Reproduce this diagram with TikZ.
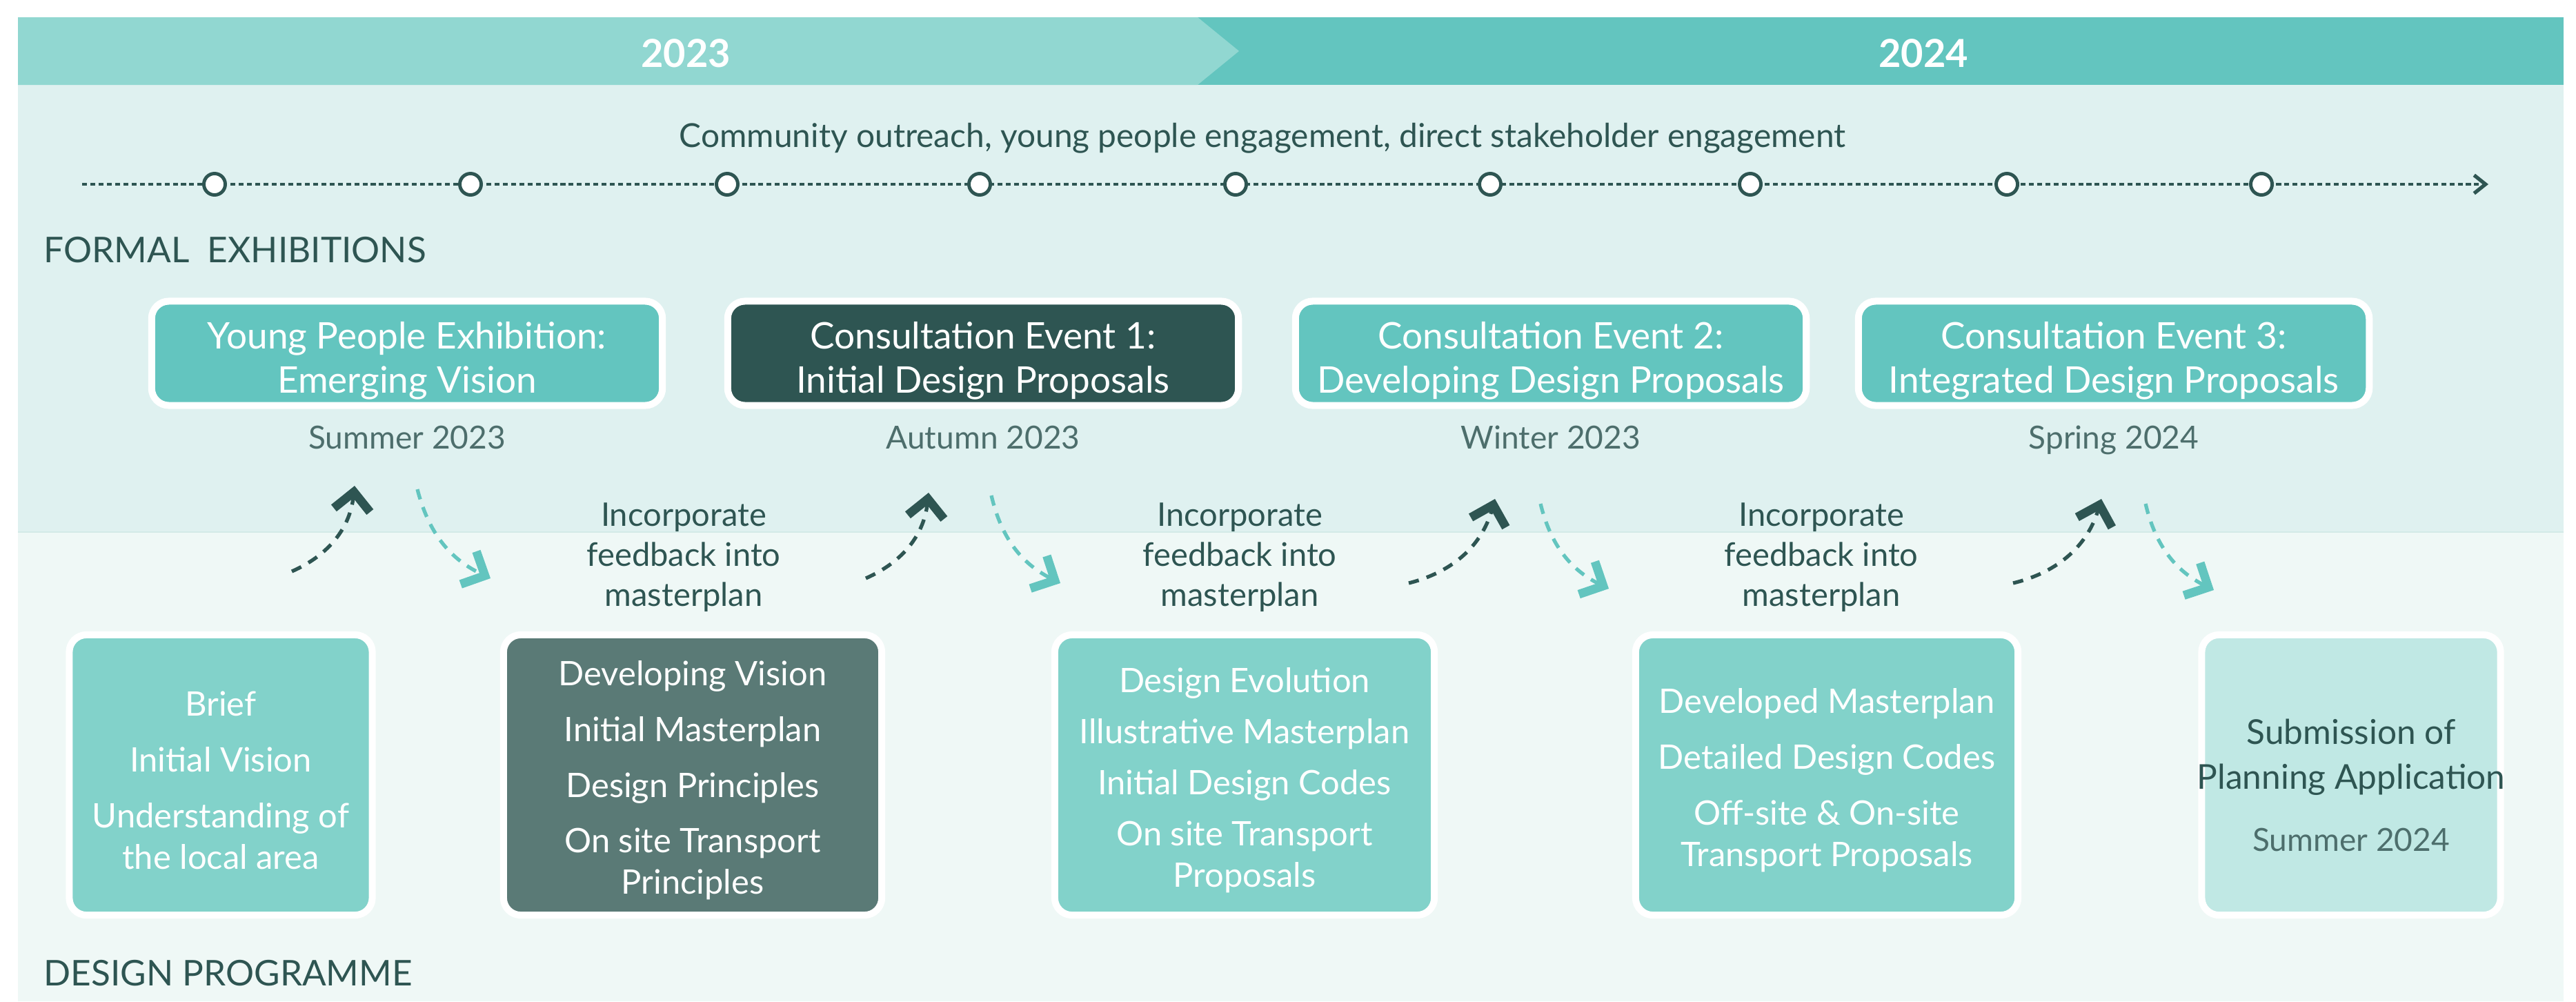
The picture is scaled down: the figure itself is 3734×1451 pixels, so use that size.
\documentclass[tikz,border=0pt]{standalone}
\usepackage{fontspec}
\setmainfont{Lato}
\usetikzlibrary{arrows.meta}

\definecolor{bandlight}{HTML}{91D7D1}
\definecolor{bandteal}{HTML}{63C5BF}
\definecolor{panelup}{HTML}{DFF1F0}
\definecolor{paneldown}{HTML}{EFF8F6}
\definecolor{panelline}{HTML}{D3EAE7}
\definecolor{deepgreen}{HTML}{2E5552}
\definecolor{stageteal}{HTML}{82D2CA}
\definecolor{stagegrey}{HTML}{5A7A76}
\definecolor{stagepale}{HTML}{C0E8E4}

\newcommand{\yearfont}{\fontsize{15.9pt}{18pt}\selectfont\bfseries}
\newcommand{\headfont}{\fontsize{14.6pt}{17pt}\selectfont}
% taller first line pushes the text block a little down in its box
\newcommand{\evpad}{\rule{0pt}{17.5pt}}
\newcommand{\stpad}{\rule{0pt}{14.6pt}}

\tikzset{
  eventbox/.style={rectangle, rounded corners=0.25cm, draw=white, line width=2.85pt,
    fill=bandteal, text=white, align=center, inner sep=0pt,
    minimum width=7.4cm, minimum height=1.51cm, font=\fontsize{15.1pt}{18.2pt}\selectfont},
  stagebox/.style={rectangle, rounded corners=0.25cm, draw=white, line width=2.85pt,
    fill=stageteal, text=white, align=center, inner sep=0pt,
    minimum height=4.06cm, font=\fontsize{13.9pt}{17pt}\selectfont},
  seasonlabel/.style={anchor=base, text=deepgreen!85!white, font=\fontsize{13.1pt}{15pt}\selectfont},
  feedbacknote/.style={text=deepgreen, align=center, font=\fontsize{13.4pt}{16.5pt}\selectfont},
  heading/.style={anchor=base west, inner sep=0pt, text=deepgreen, font=\headfont},
  milestone/.style={circle, draw=deepgreen, fill=white, line width=1.4pt,
    minimum size=0.31cm, inner sep=0pt},
  timeline/.style={deepgreen, line width=1.1pt, dash pattern=on 2pt off 1.4pt,
    -{Straight Barb[length=4.7pt, width=7.5pt, line width=1.5pt]}},
  toevent/.style={deepgreen, line width=1.5pt, dash pattern=on 4.3pt off 3.4pt,
    -{Straight Barb[length=7.5pt, width=15pt, line width=3.6pt]}, bend right=30},
  tostage/.style={bandteal, line width=1.5pt, dash pattern=on 4.3pt off 3.4pt,
    -{Straight Barb[length=7.5pt, width=15pt, line width=3.6pt]}, bend right=25}
}

\begin{document}
\begin{tikzpicture}[x=0.01cm, y=-0.01cm]
\useasboundingbox (0,0) rectangle (3734,1451);
\fill[white] (0,0) rectangle (3734,1451);

% panels and year band
\fill[panelup] (26,123) rectangle (3716,771);
\fill[paneldown] (26,771) rectangle (3716,1451);
\draw[panelline, line width=0.6pt] (26,771) -- (3716,771);
\fill[bandteal] (26,25) rectangle (3716,123);
\fill[bandlight] (26,25) -- (1736,25) -- (1796,74) -- (1736,123) -- (26,123) -- cycle;
\node[anchor=base, text=white, font=\yearfont] (y2023) at (994,97) {2023};
\node[anchor=base, text=white, font=\yearfont] (y2024) at (2788,97) {2024};

\node[anchor=base, text=deepgreen, font=\fontsize{13.6pt}{16pt}\selectfont] (outreach) at (1830,213)
  {Community outreach, young people engagement, direct stakeholder engagement};

% engagement timeline
\coordinate (tlstart) at (119,267);
\coordinate (tlend) at (3607,267);
\draw[timeline] (tlstart) -- (tlend);
\foreach \x [count=\i] in {311,682,1054,1420,1791,2160,2537,2909,3278}
  \node[milestone] (m\i) at (\x,267) {};

\node[heading] (formal) at (63,380) {FORMAL~~EXHIBITIONS};
\node[heading] (programme) at (63,1428) {DESIGN PROGRAMME};

% exhibitions
\node[eventbox] (e1) at (590,512) {\evpad Young People Exhibition:\\Emerging Vision};
\node[eventbox, fill=deepgreen] (e2) at (1425,512) {\evpad Consultation Event 1:\\Initial Design Proposals};
\node[eventbox] (e3) at (2248,512) {\evpad Consultation Event 2:\\Developing Design Proposals};
\node[eventbox] (e4) at (3064,512) {\evpad Consultation Event 3:\\Integrated Design Proposals};

\node[seasonlabel] (w1) at (590,650) {Summer 2023};
\node[seasonlabel] (w2) at (1425,650) {Autumn 2023};
\node[seasonlabel] (w3) at (2248,650) {Winter 2023};
\node[seasonlabel] (w4) at (3064,650) {Spring 2024};

\node[feedbacknote] (f1) at (991,808) {Incorporate\\feedback into\\masterplan};
\node[feedbacknote] (f2) at (1797,808) {Incorporate\\feedback into\\masterplan};
\node[feedbacknote] (f3) at (2640,808) {Incorporate\\feedback into\\masterplan};

% design stages
\node[stagebox, minimum width=4.39cm] (s1) at (320,1123)
  {\stpad Brief\\[6pt]Initial Vision\\[6pt]Understanding of\\the local area};
\node[stagebox, minimum width=5.48cm, fill=stagegrey] (s2) at (1004,1123)
  {\stpad Developing Vision\\[6pt]Initial Masterplan\\[6pt]Design Principles\\[6pt]On site Transport\\Principles};
\node[stagebox, minimum width=5.5cm] (s3) at (1804,1123)
  {\stpad Design Evolution\\[4pt]Illustrative Masterplan\\[4pt]Initial Design Codes\\[4pt]On site Transport\\Proposals};
\node[stagebox, minimum width=5.54cm] (s4) at (2648,1123)
  {\stpad Developed Masterplan\\[6pt]Detailed Design Codes\\[6pt]Off-site \& On-site\\Transport Proposals};
\node[stagebox, minimum width=4.33cm, fill=stagepale] (s5) at (3408,1123) {};
\node[text=deepgreen, align=center, font=\fontsize{14.1pt}{18.5pt}\selectfont] (submit) at ([yshift=-0.15cm]s5.center)
  {Submission of\\Planning Application\\[7pt]{\fontsize{13.1pt}{15pt}\selectfont\color{deepgreen!85!white}Summer 2024}};

% feedback loops
\foreach \sx/\sy/\tx/\ty [count=\i] in {423/828/514/704, 1255/838/1346/714, 2042/845/2167/723, 2918/845/3046/723} {
  \coordinate (up\i a) at (\sx,\sy);
  \coordinate (up\i b) at (\tx,\ty);
  \draw[toevent] (up\i a) to (up\i b);
}
\foreach \sx/\sy/\tx/\ty [count=\i] in {605/709/711/838, 1437/718/1537/845, 2233/730/2332/853, 3110/730/3209/855} {
  \coordinate (dn\i a) at (\sx,\sy);
  \coordinate (dn\i b) at (\tx,\ty);
  \draw[tostage] (dn\i a) to (dn\i b);
}
\end{tikzpicture}
\end{document}
